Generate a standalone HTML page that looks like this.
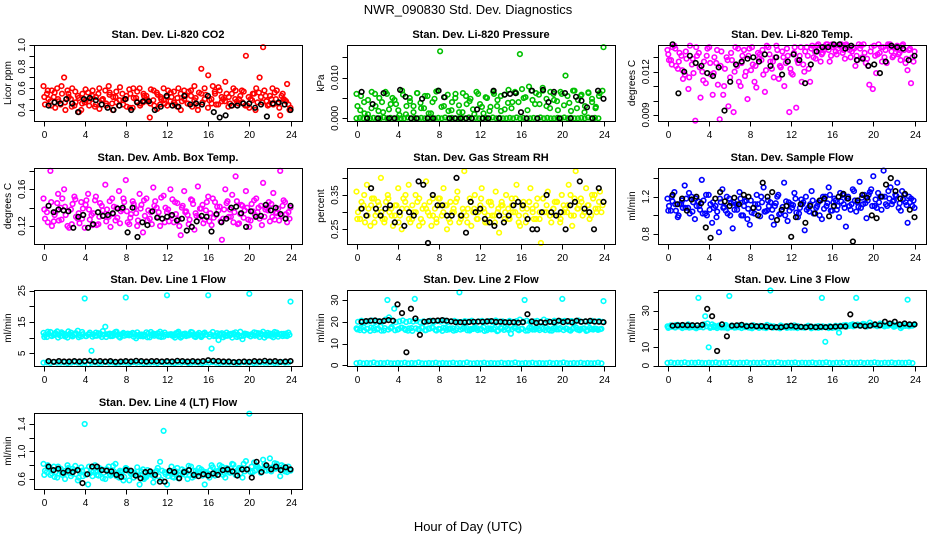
<!DOCTYPE html>
<html><head><meta charset="utf-8"><style>
html,body{margin:0;padding:0;background:#fff;}
svg{display:block;font-family:"Liberation Sans",Arial,sans-serif;}
</style></head><body>
<svg id="chart" width="936" height="540" viewBox="0 0 936 540" xmlns="http://www.w3.org/2000/svg">
<rect x="0" y="0" width="936" height="540" fill="#fff"/>
<text x="468" y="14" text-anchor="middle" font-size="13">NWR_090830  Std. Dev. Diagnostics</text>
<text x="468" y="531" text-anchor="middle" font-size="13">Hour of Day (UTC)</text>
<g id="panels"></g>
</svg>
<script>
const hourTicks = [0,4,8,12,16,20,24];

const co2Red1 = [0.62,0.55,0.48,0.52,0.60,0.45,0.70,0.58,0.50,0.44,0.53,0.40,0.47,0.56,0.50,0.43,0.55,0.49,0.58,0.62,0.46,0.52,0.44,0.55,0.50,0.59,0.42,0.51,0.60,0.47,0.53,0.33,0.49,0.56,0.45,0.60,0.52,0.48,0.57,0.43,0.55,0.50,0.46,0.58,0.62,0.40,0.78,0.50,0.72,0.46,0.55,0.61,0.48,0.66,0.52,0.44,0.58,0.50,0.47,0.90,0.42,0.55,0.60,0.70,0.98,0.48,0.53,0.45,0.58,0.35,0.50,0.64,0.42];
const co2Red2 = [0.45,0.50,0.58,0.42,0.48,0.55,0.40,0.52,0.60,0.47,0.38,0.55,0.49,0.44,0.58,0.52,0.41,0.50,0.46,0.54,0.40,0.57,0.49,0.45,0.53,0.42,0.60,0.48,0.44,0.55,0.50,0.46,0.58,0.41,0.52,0.49,0.44,0.56,0.47,0.51,0.40,0.58,0.46,0.53,0.49,0.44,0.55,0.60,0.42,0.50,0.57,0.45,0.52,0.48,0.43,0.55,0.50,0.46,0.58,0.44,0.52,0.49,0.40,0.56,0.47,0.53,0.45,0.60,0.50,0.42,0.55,0.48,0.40];
const co2Red3 = [0.52,0.58,0.44,0.56,0.50,0.62,0.47,0.55,0.43,0.57,0.51,0.46,0.59,0.48,0.53,0.45,0.60,0.50,0.44,0.56,0.52,0.47,0.61,0.49,0.43,0.55,0.51,0.57,0.46,0.53,0.48,0.59,0.44,0.54,0.50,0.46,0.58,0.52,0.45,0.60,0.48,0.53,0.57,0.43,0.51,0.56,0.47,0.54,0.49,0.62,0.45,0.58,0.50,0.55,0.46,0.60,0.48,0.53,0.57,0.44,0.50,0.55,0.47,0.52,0.58,0.44,0.50,0.56,0.46,0.53,0.49,0.45];
const co2Black = [0.44,0.47,0.46,0.50,0.46,0.38,0.50,0.51,0.49,0.45,0.42,0.40,0.44,0.50,0.40,0.47,0.48,0.48,0.40,0.43,0.53,0.44,0.43,0.53,0.45,0.46,0.45,0.53,0.38,0.33,0.35,0.44,0.44,0.46,0.46,0.42,0.45,0.34,0.46,0.47,0.45,0.40];

const presGreen1 = [0.006,0.002,0.004,0.001,0.0065,0.003,0.005,0.0015,0.006,0.0035,0.0045,0.002,0.0068,0.001,0.005,0.003,0.0062,0.0025,0.0055,0.0012,0.004,0.0066,0.0165,0.003,0.0058,0.002,0.005,0.0015,0.0062,0.0035,0.0048,0.001,0.006,0.0028,0.0052,0.0018,0.0065,0.003,0.0055,0.0022,0.007,0.004,0.0062,0.0158,0.005,0.002,0.0068,0.0035,0.0058,0.0075,0.003,0.0065,0.0045,0.002,0.006,0.0105,0.0038,0.0068,0.0025,0.0055,0.0015,0.0064,0.004,0.0028,0.0062,0.0175];
const presGreen2 = [0.003,0.0055,0.0012,0.0045,0.0025,0.006,0.0018,0.004,0.0065,0.0022,0.005,0.0035,0.0008,0.0058,0.003,0.0042,0.0015,0.0062,0.0038,0.0025,0.0055,0.0012,0.0048,0.0068,0.0028,0.0052,0.0018,0.004,0.006,0.0032,0.0015,0.0055,0.0042,0.0022,0.0065,0.0035,0.0012,0.005,0.0028,0.006,0.0045,0.0018,0.0058,0.0038,0.0025,0.0065,0.004,0.0072,0.0052,0.0078,0.0045,0.0062,0.0035,0.0068,0.0048,0.0025,0.006,0.0042,0.0065,0.0032,0.0055,0.0018,0.0068,0.0045,0.0058,0.003,0.0062,0.0048,0.0025,0.0055,0.0068];
const presGreen0 = [0,0.0001,0,0.0002,0,0.0001,0,0,0.0002,0,0.0001,0,0.0001,0,0,0.0002,0,0.0001,0,0.0001,0,0.0002,0,0,0.0001,0,0.0002,0,0.0001,0,0,0.0001,0,0.0002,0,0.0001,0,0,0.0001,0,0.0002,0,0.0001,0,0,0.0001,0,0.0002,0,0.0001,0,0,0.0001,0,0.0002,0,0.0001,0,0,0.0001,0,0.0002,0,0.0001,0,0,0.0001,0,0.0002,0,0.0001,0];
const presBlack = [0.0065,0.0,0.0035,0.0,0.0062,0.0,0.0,0.007,0.0053,0.0,0.0,0.0048,0.0,0.0,0.0068,0.0052,0.0,0.0,0.0,0.0,0.0,0.0022,0.0,0.0,0.0068,0.0,0.0058,0.006,0.0062,0.0015,0.0,0.0068,0.0,0.007,0.004,0.0065,0.0,0.0062,0.0,0.0053,0.0043,0.0027,0.0,0.0068,0.0048];

const tempMag1 = [0.0135,0.0128,0.0138,0.0122,0.0131,0.0118,0.0108,0.0125,0.0086,0.0133,0.0120,0.0112,0.0137,0.0104,0.0126,0.0087,0.0104,0.0130,0.0116,0.0092,0.0124,0.0110,0.0135,0.0101,0.0121,0.0113,0.0133,0.0128,0.0106,0.0137,0.0122,0.0130,0.0115,0.0134,0.0126,0.0092,0.0118,0.0095,0.0131,0.0125,0.0137,0.0113,0.0130,0.0138,0.0127,0.0135,0.0139,0.0131,0.0138,0.0136,0.0139,0.0129,0.0137,0.0134,0.0124,0.0139,0.0130,0.0126,0.0111,0.0108,0.0119,0.0133,0.0137,0.0126,0.0139,0.0131,0.0138,0.0128,0.0135,0.0121,0.0112,0.0134];
const tempMag2 = [0.0128,0.0137,0.0124,0.0133,0.0115,0.0129,0.0138,0.0119,0.0131,0.0102,0.0127,0.0136,0.0118,0.0130,0.0111,0.0134,0.0122,0.0096,0.0128,0.0137,0.0113,0.0131,0.0120,0.0136,0.0125,0.0109,0.0132,0.0118,0.0138,0.0127,0.0116,0.0135,0.0123,0.0110,0.0131,0.0119,0.0137,0.0126,0.0113,0.0134,0.0122,0.0138,0.0129,0.0136,0.0133,0.0139,0.0127,0.0137,0.0132,0.0139,0.0135,0.0138,0.0130,0.0136,0.0128,0.0138,0.0133,0.0124,0.0137,0.0131,0.0139,0.0127,0.0135,0.0138,0.0130,0.0136,0.0133,0.0139,0.0129,0.0136,0.0127];
const tempMag3 = [0.0132,0.0125,0.0136,0.0127,0.0121,0.0134,0.0116,0.0129,0.0137,0.0123,0.0114,0.0131,0.0126,0.0119,0.0135,0.0124,0.0110,0.0128,0.0133,0.0120,0.0136,0.0126,0.0117,0.0131,0.0137,0.0124,0.0129,0.0135,0.0121,0.0132,0.0127,0.0138,0.0124,0.0130,0.0136,0.0122,0.0133,0.0128,0.0137,0.0120,0.0131,0.0136,0.0134,0.0139,0.0132,0.0137,0.0135,0.0139,0.0134,0.0138,0.0133,0.0139,0.0135,0.0137,0.0131,0.0136,0.0139,0.0129,0.0134,0.0138,0.0132,0.0137,0.0130,0.0139,0.0134,0.0137,0.0132,0.0138,0.0126,0.0135,0.0130];
const tempBlack = [0.0139,0.0105,0.0120,0.0131,0.0126,0.0124,0.0119,0.0117,0.0123,0.0093,0.0113,0.0125,0.0127,0.0129,0.0130,0.0127,0.0132,0.0124,0.0130,0.0118,0.0127,0.0132,0.0128,0.0112,0.0125,0.0134,0.0137,0.0137,0.0139,0.0139,0.0136,0.0138,0.0128,0.0129,0.0124,0.0125,0.0119,0.0127,0.0138,0.0137,0.0136,0.0128,0.0131];

const boxMag1 = [0.150,0.135,0.180,0.125,0.145,0.140,0.160,0.120,0.138,0.152,0.128,0.146,0.118,0.155,0.132,0.148,0.122,0.142,0.165,0.130,0.150,0.126,0.158,0.138,0.170,0.122,0.147,0.134,0.155,0.113,0.150,0.128,0.162,0.140,0.120,0.153,0.135,0.160,0.124,0.145,0.110,0.158,0.132,0.149,0.116,0.163,0.139,0.127,0.152,0.121,0.146,0.137,0.105,0.160,0.130,0.154,0.174,0.123,0.142,0.158,0.119,0.136,0.150,0.128,0.167,0.140,0.125,0.156,0.134,0.180,0.148,0.124,0.140];
const boxMag2 = [0.128,0.142,0.120,0.135,0.126,0.150,0.132,0.118,0.144,0.130,0.123,0.139,0.148,0.127,0.134,0.121,0.145,0.131,0.138,0.119,0.141,0.129,0.136,0.146,0.124,0.133,0.140,0.126,0.143,0.131,0.137,0.122,0.147,0.135,0.128,0.140,0.125,0.149,0.133,0.120,0.142,0.136,0.127,0.144,0.131,0.139,0.123,0.146,0.134,0.129,0.141,0.125,0.138,0.147,0.130,0.135,0.122,0.143,0.137,0.127,0.144,0.132,0.140,0.121,0.138,0.146,0.130,0.135,0.126,0.142,0.133,0.128];
const boxMag3 = [0.138,0.124,0.146,0.132,0.155,0.127,0.141,0.136,0.122,0.149,0.134,0.128,0.143,0.138,0.121,0.152,0.130,0.137,0.125,0.147,0.133,0.140,0.123,0.150,0.136,0.129,0.144,0.120,0.139,0.148,0.126,0.135,0.142,0.130,0.151,0.124,0.138,0.131,0.146,0.127,0.140,0.135,0.122,0.148,0.134,0.129,0.143,0.137,0.125,0.150,0.132,0.141,0.128,0.145,0.138,0.124,0.147,0.133,0.129,0.140,0.126,0.148,0.135,0.142,0.130,0.137,0.144,0.127,0.139,0.131,0.146,0.135];
const boxBlack = [0.142,0.135,0.138,0.137,0.136,0.118,0.130,0.132,0.118,0.122,0.135,0.131,0.132,0.134,0.139,0.140,0.113,0.140,0.108,0.124,0.121,0.136,0.129,0.128,0.130,0.132,0.126,0.128,0.115,0.119,0.125,0.131,0.130,0.114,0.133,0.124,0.128,0.140,0.141,0.134,0.119,0.136,0.130,0.131,0.143,0.137,0.140,0.133,0.128,0.142];

const rhYellow1 = [0.36,0.28,0.32,0.38,0.26,0.34,0.30,0.40,0.27,0.35,0.31,0.29,0.37,0.25,0.33,0.38,0.28,0.35,0.26,0.31,0.39,0.29,0.34,0.27,0.32,0.37,0.25,0.33,0.30,0.36,0.28,0.42,0.31,0.26,0.35,0.30,0.37,0.27,0.33,0.29,0.36,0.24,0.32,0.35,0.28,0.30,0.38,0.26,0.33,0.31,0.37,0.28,0.34,0.21,0.30,0.36,0.27,0.33,0.29,0.35,0.31,0.38,0.26,0.42,0.32,0.29,0.37,0.28,0.34,0.30,0.36,0.33];
const rhYellow2 = [0.30,0.33,0.27,0.31,0.34,0.29,0.32,0.28,0.33,0.30,0.26,0.32,0.29,0.34,0.31,0.27,0.30,0.33,0.28,0.32,0.30,0.26,0.31,0.34,0.29,0.32,0.28,0.30,0.33,0.27,0.31,0.29,0.34,0.30,0.28,0.32,0.31,0.27,0.33,0.29,0.30,0.32,0.28,0.31,0.34,0.30,0.27,0.32,0.29,0.33,0.31,0.28,0.30,0.34,0.32,0.29,0.31,0.33,0.28,0.30,0.32,0.29,0.34,0.31,0.33,0.30,0.32,0.35,0.31,0.33,0.32];
const rhYellow3 = [0.28,0.31,0.35,0.29,0.32,0.27,0.33,0.30,0.28,0.34,0.29,0.32,0.27,0.31,0.35,0.28,0.32,0.30,0.34,0.27,0.31,0.33,0.29,0.28,0.34,0.30,0.32,0.27,0.31,0.34,0.29,0.30,0.27,0.33,0.31,0.28,0.34,0.30,0.29,0.32,0.27,0.31,0.33,0.30,0.28,0.32,0.34,0.29,0.31,0.27,0.33,0.30,0.32,0.28,0.34,0.30,0.29,0.31,0.33,0.27,0.32,0.30,0.35,0.29,0.31,0.34,0.30,0.32,0.29,0.35,0.31,0.30];
const rhBlack = [0.31,0.29,0.37,0.31,0.29,0.31,0.32,0.27,0.30,0.26,0.30,0.29,0.39,0.38,0.21,0.35,0.32,0.32,0.29,0.29,0.40,0.29,0.24,0.33,0.30,0.31,0.28,0.27,0.26,0.29,0.27,0.29,0.32,0.33,0.32,0.28,0.25,0.25,0.30,0.35,0.30,0.29,0.30,0.25,0.32,0.33,0.39,0.31,0.30,0.25,0.37,0.33];

const flowBlue1 = [1.18,1.05,1.25,0.98,1.12,1.32,1.08,1.20,0.96,1.15,1.38,1.02,1.22,0.92,1.10,0.82,1.28,1.05,1.18,0.86,1.12,1.25,1.00,1.16,0.90,1.08,1.22,0.99,1.30,1.05,1.14,0.90,1.20,1.02,1.35,0.94,1.12,1.24,0.98,1.17,0.84,1.08,1.26,1.02,1.14,0.96,1.20,1.30,1.05,1.16,0.98,1.22,0.88,1.10,1.28,1.04,1.36,1.12,0.97,1.25,1.42,1.08,1.20,1.48,1.10,1.30,1.16,1.35,1.05,1.22,0.92,1.18,1.08];
const flowBlue2 = [1.10,1.15,1.05,1.12,1.08,1.18,1.02,1.14,1.10,1.06,1.16,1.00,1.12,1.08,1.04,1.14,1.09,1.02,1.13,1.06,1.11,1.00,1.15,1.07,1.03,1.12,1.08,1.14,1.04,1.10,1.06,1.13,1.01,1.09,1.15,1.05,1.11,1.03,1.08,1.14,1.06,1.12,1.02,1.10,1.16,1.07,1.13,1.05,1.18,1.10,1.15,1.08,1.20,1.12,1.16,1.09,1.19,1.13,1.22,1.10,1.17,1.14,1.20,1.12,1.18,1.15,1.21,1.13,1.17,1.11,1.14,1.16];
const flowBlue3 = [1.05,1.20,1.12,1.00,1.16,1.08,1.24,1.04,1.18,1.10,1.02,1.22,1.06,1.14,0.98,1.18,1.08,1.20,1.00,1.14,1.06,1.18,1.10,0.96,1.16,1.02,1.12,1.20,1.04,1.16,0.98,1.10,1.22,1.06,1.00,1.14,1.08,1.18,1.02,1.12,1.20,1.04,1.16,1.08,1.00,1.20,1.10,1.22,1.14,1.06,1.24,1.12,1.18,1.06,1.26,1.14,1.08,1.22,1.16,1.28,1.10,1.24,1.06,1.20,1.26,1.12,1.22,1.08,1.26,1.14,1.20,1.10];
const flowBlack = [1.22,1.12,1.18,1.05,1.17,1.20,1.13,0.87,0.76,1.18,1.25,1.15,1.10,1.19,1.12,1.22,1.20,1.08,1.00,1.35,1.20,1.25,0.95,1.06,1.10,0.77,0.98,1.12,0.92,1.10,1.02,1.16,1.18,0.99,1.10,1.20,1.23,1.18,0.72,1.16,1.22,1.19,1.00,0.97,1.20,1.33,1.40,1.26,1.18,1.23,1.06,0.98];

const line1Cyan1 = [11.5,10.2,11.8,10.8,12.0,10.5,11.2,10.0,11.6,10.9,12.2,10.4,22.5,11.0,5.8,10.6,11.4,10.2,13.5,11.0,10.5,11.8,10.3,11.2,22.8,10.7,11.5,9.8,11.0,10.4,11.7,10.1,11.3,10.8,11.9,10.3,23.5,11.1,10.6,11.5,10.0,11.2,10.7,11.8,10.4,11.0,10.2,11.6,23.5,6.5,10.8,9.2,11.4,10.5,11.1,10.0,11.7,10.4,9.5,11.2,24.0,10.8,11.5,10.2,11.9,10.6,11.3,10.1,11.6,10.9,11.2,10.5,21.5];
const line1Cyan2 = [10.8,11.2,10.5,11.5,10.9,11.3,10.6,11.0,10.4,11.4,10.7,11.1,10.5,11.6,11.0,10.6,11.3,10.9,11.1,10.5,11.4,10.8,11.0,10.6,11.3,10.9,11.2,10.5,11.0,10.7,11.3,10.8,11.1,10.4,11.2,10.9,11.0,10.6,11.4,10.7,11.1,10.5,11.2,10.8,11.0,10.6,11.3,10.9,11.1,10.5,11.4,10.8,11.0,10.6,11.2,10.9,11.0,10.5,11.3,10.8,11.1,10.6,11.4,10.9,11.0,10.7,11.2,10.8,11.1,10.5,11.3,10.9];
const line1Cyan3 = [10.2,11.9,10.6,11.2,10.0,11.7,10.4,12.0,10.8,11.4,10.1,11.8,10.5,11.1,10.3,11.6,10.7,12.1,10.2,11.3,10.6,11.9,10.0,11.5,10.8,11.2,10.3,11.7,10.5,11.0,10.1,11.8,10.6,11.4,10.2,11.6,10.8,11.1,10.0,11.9,10.4,11.3,10.7,11.7,10.2,11.5,10.6,11.0,10.3,11.8,10.5,11.2,10.1,11.6,10.7,11.4,10.2,11.9,10.6,11.1,10.4,11.7,10.8,11.3,10.0,11.5,10.5,11.8,10.3,11.2,10.6,11.6];
const line1CyanLow = [2.0,2.1,1.9,2.2,2.0,2.0,2.1,1.9,2.0,2.2,2.0,1.9,2.1,1.5,2.0,2.1,1.9,2.0,2.2,2.0,2.1,1.9,2.0,2.1,2.0,1.9,2.2,2.0,2.1,1.9,2.0,2.0,2.1,1.9,2.2,2.0,2.1,2.0,1.9,2.1,2.0,2.2,1.9,2.0,2.1,2.0,1.9,2.1,2.0,2.2,2.0,1.9,2.1,2.0,2.0,2.1,1.9,2.0,2.2,2.0,2.1,1.9,2.0,2.1,2.0,2.0,2.1,1.9,2.0,2.2,2.0,2.1];
const line1Black = [2.5,2.3,2.5,2.4,2.4,2.5,2.4,2.5,2.6,2.4,2.5,2.4,2.5,2.3,2.4,2.5,2.4,2.6,2.5,2.4,2.5,2.5,2.4,2.5,2.4,2.6,2.5,2.4,2.5,2.4,2.5,2.8,2.6,2.5,2.4,2.4,2.2,2.3,2.4,2.3,2.5,2.4,2.6,2.4,2.5,2.3,2.4,2.5];

const line2Cyan1 = [17,16.2,17.5,16.8,15.8,17.2,16.5,17.8,16,30,17,26,16.4,17.3,16.8,15.9,17.1,30.5,16.6,17.4,16.1,16.9,17.5,16.3,16.8,15.8,17.2,16.5,17.0,16.2,33.5,16.8,17.3,16.0,16.7,17.1,16.4,17.5,16.1,16.9,16.6,15.7,17.2,16.3,16.9,14.5,17.4,16.5,16.8,30,16.0,17.2,16.4,16.9,17.5,16.2,16.7,15.9,17.3,16.5,30.5,17.0,16.3,16.8,17.4,16.1,16.9,15.8,17.2,16.4,16.8,16.6,29.5];
const line2Cyan2 = [20,20.5,19.8,20.2,20.6,19.9,20.3,20.0,21,22,20.5,19.8,20.2,20.6,19.9,20.3,20.1,20.4,19.8,20.2,20.0,20.5,19.9,20.3,20.1,20.6,19.8,20.2,20.4,20.0,19.9,20.3,20.1,20.5,19.8,20.2,20.4,20.0,20.3,19.9,20.6,20.1,20.2,19.8,20.4,20.0,20.3,21,20.1,20.5,19.9,20.2,20.4,20.0,21,20.3,19.8,20.5,20.1,20.2,20.4,19.9,20.3,20.1,20.6,20.0,20.2,19.8,20.4,20.1,20.3,20.0];
const line2Cyan3 = [16.5,17.2,16.0,16.8,17.4,16.2,16.9,15.9,17.1,16.4,17.6,16.1,16.7,17.3,16.3,16.9,15.8,17.0,16.5,17.4,16.2,16.8,17.2,16.0,16.6,17.3,16.3,16.9,15.9,17.1,16.4,17.5,16.1,16.7,17.2,16.2,16.8,15.8,17.0,16.5,17.3,16.0,16.9,17.4,16.3,16.6,17.1,16.1,16.8,15.9,17.2,16.4,17.0,16.2,16.7,17.3,16.0,16.9,16.5,17.1,16.2,16.8,15.9,17.2,16.4,16.7,17.0,16.1,16.6,16.9,16.3,16.8];
const line2CyanLow = [1.0,1.2,0.9,1.1,1.0,1.3,0.9,1.1,1.0,1.2,1.0,0.9,1.1,1.0,1.2,0.9,1.1,1.0,1.3,1.0,0.9,1.1,1.0,1.2,0.9,1.1,1.0,1.0,1.2,0.9,1.1,1.0,1.3,1.0,0.9,1.1,1.0,1.2,0.9,1.1,1.0,1.0,1.2,0.9,1.1,1.0,1.3,1.0,0.9,1.1,1.0,1.2,0.9,1.1,1.0,1.0,1.2,0.9,1.1,1.0,1.3,1.0,0.9,1.1,1.0,1.2,0.9,1.1,1.0,1.0,1.2,0.9];
const line2Black = [20,20.3,20.5,20.6,20.2,20.4,20.8,20.5,28,24,6,26,21.5,14,20,20.3,20.5,20.6,20.8,20.5,20.2,19.8,19.8,19.7,19.9,20.0,20.1,20.0,20.2,20.3,19.9,20.0,19.8,19.7,19.8,19.6,19.8,23.5,20.2,19.5,19.8,19.6,20,19.7,20.5,19.8,20.3,19.7,20.5,20.0,20.2,20.4,20.1,20.0,19.8];

const line3Cyan1 = [21.5,22,21,22.3,21.2,21.8,22.5,21,20.8,37,22,27,10,22.5,21.3,21.9,21.0,22.2,38,21.6,20.9,22.0,21.4,21.8,20.7,22.1,21.3,21.7,20.9,22.3,41,21.5,20.8,21.9,21.2,21.6,20.7,22.0,21.4,21.1,20.8,21.8,21.3,20.9,21.6,37,13,21.2,20.6,21.8,18,21.4,22.2,21.7,22.5,37,21.9,22.8,21.5,23.5,22.0,21.6,23.0,22.4,21.8,22.7,21.2,22.4,20.5,22.0,36,21.8,22.5];
const line3Cyan2 = [21,21.6,22.2,21.4,21.9,21.1,21.7,21.3,22.0,21.5,22.5,23,21.2,21.8,21.4,20.8,21.6,21.1,21.9,21.3,21.0,21.7,21.2,21.5,20.9,21.6,21.1,21.4,20.8,21.7,21.2,21.0,21.5,21.3,20.9,21.6,21.1,21.4,20.9,21.2,21.5,20.8,21.3,21.0,21.4,21.1,21.6,20.9,21.3,21.8,22.0,21.6,22.2,21.9,22.4,22.1,22.6,21.8,22.3,22.5,22.0,22.4,21.8,22.2,22.6,21.9,22.3,21.7,22.1,21.9,22.2];
const line3Cyan3 = [20.6,21.2,20.8,21.4,20.5,21.0,20.7,21.3,20.4,21.1,20.9,21.5,20.6,21.0,20.5,21.2,20.8,20.4,21.1,20.7,21.3,20.5,21.0,20.8,20.4,21.2,20.6,21.0,20.5,21.3,20.7,20.9,20.4,21.1,20.6,21.2,20.8,20.5,21.0,20.7,21.3,20.4,21.1,20.6,20.9,21.2,20.5,21.0,20.8,21.4,21.6,21.2,21.8,21.5,22.0,21.7,22.2,21.4,21.9,22.1,21.6,22.0,21.4,21.8,22.2,21.5,21.9,21.3,21.7,21.5,21.8];
const line3CyanLow = [1.5,1.7,1.4,1.6,1.5,1.8,1.4,1.6,1.5,1.7,1.5,1.4,1.6,1.5,1.7,1.4,1.6,1.5,1.8,1.5,1.4,1.6,1.5,1.7,1.4,1.6,1.5,1.5,1.7,1.4,1.6,1.5,1.8,1.5,1.4,1.6,1.5,1.7,1.4,1.6,1.5,1.5,1.7,1.4,1.6,1.5,1.8,1.5,1.4,1.6,1.5,1.7,1.4,1.6,1.5,1.5,1.7,1.4,1.6,1.5,1.8,1.5,1.4,1.6,1.5,1.7,1.4,1.6,1.5,1.5,1.7,1.4];
const line3Black = [21.8,22,22.2,22,22.1,22,22.3,31,27,8,22.5,16,21.8,22,22.3,21.5,21.8,21.5,21.6,21.3,21,21,21,21.5,21.8,21.3,21.2,21,21.3,21,21.2,21,21.2,21.3,21.5,21.4,28,22,21.8,21.5,21.8,22.5,22,24,23,24,22.5,23,22.5,22.5];

const line4Cyan1 = [0.82,0.70,0.66,0.78,0.62,0.75,0.68,0.80,0.64,0.73,0.58,0.77,1.40,0.52,0.72,0.80,0.65,0.74,0.60,0.78,0.68,0.82,0.62,0.71,0.76,0.58,0.70,0.66,0.52,0.74,0.63,0.69,0.55,0.72,0.85,1.30,0.52,0.70,0.62,0.76,0.66,0.72,0.60,0.78,0.64,0.70,0.74,0.52,0.68,0.80,0.65,0.72,0.78,0.62,0.70,0.82,0.66,0.76,0.62,0.86,1.55,0.70,0.80,0.74,0.88,0.72,0.90,0.76,0.82,0.64,0.78,0.70,0.72];
const line4Cyan2 = [0.72,0.76,0.68,0.70,0.74,0.66,0.72,0.69,0.75,0.67,0.71,0.64,0.73,0.68,0.70,0.66,0.72,0.69,0.74,0.65,0.71,0.68,0.70,0.63,0.72,0.67,0.69,0.65,0.71,0.62,0.68,0.66,0.70,0.64,0.72,0.67,0.69,0.63,0.71,0.66,0.68,0.70,0.65,0.72,0.67,0.69,0.71,0.66,0.73,0.68,0.70,0.74,0.69,0.72,0.75,0.70,0.73,0.76,0.71,0.74,0.78,0.72,0.76,0.74,0.78,0.73,0.77,0.75,0.76,0.73,0.75,0.74];
const line4Cyan3 = [0.66,0.80,0.74,0.63,0.78,0.70,0.60,0.76,0.68,0.79,0.62,0.72,0.66,0.78,0.64,0.70,0.76,0.61,0.74,0.67,0.79,0.64,0.72,0.58,0.75,0.69,0.62,0.77,0.66,0.60,0.73,0.68,0.63,0.76,0.59,0.70,0.64,0.78,0.67,0.61,0.74,0.66,0.79,0.62,0.72,0.76,0.65,0.70,0.62,0.77,0.71,0.80,0.66,0.76,0.69,0.81,0.72,0.68,0.82,0.74,0.70,0.84,0.78,0.69,0.82,0.77,0.71,0.83,0.76,0.80,0.71,0.78];
const line4Black = [0.78,0.73,0.75,0.69,0.72,0.70,0.73,0.54,0.67,0.78,0.78,0.73,0.72,0.71,0.66,0.63,0.73,0.72,0.65,0.61,0.70,0.71,0.66,0.56,0.56,0.72,0.70,0.61,0.70,0.73,0.66,0.64,0.67,0.65,0.68,0.66,0.73,0.74,0.71,0.65,0.74,0.74,0.62,0.85,0.70,0.80,0.74,0.78,0.73,0.77,0.74];

const colLeft = [34, 347, 658];
const rowTop = [45, 168, 290, 413];
const BOX_W = 268, BOX_H = 76;

const panels = [
 {name:'co2', title:'Stan. Dev. Li-820 CO2', ylab:'Licor ppm', c:0, r:0, ylim:[0.298,1.0], ticks:[0.4,0.5,0.6,0.7,0.8,0.9,1.0], labels:['0.4','0.6','0.8','1.0'], labelVals:[0.4,0.6,0.8,1.0], series:[[co2Red1,'#ff0000',0,24],[co2Red2,'#ff0000',0.15,23.9],[co2Red3,'#ff0000',0.08,23.8],[co2Black,'#000',0.5,24]]},
 {name:'pressure', title:'Stan. Dev. Li-820 Pressure', ylab:'kPa', c:1, r:0, ylim:[-0.00066,0.01804], ticks:[0,0.005,0.010,0.015], labels:['0.000','0.010'], labelVals:[0,0.010], series:[[presGreen1,'#00c000',0,24],[presGreen2,'#00c000',0.1,23.9],[presGreen0,'#00c000',0,23.5],[presBlack,'#000',0.5,24]]},
 {name:'li820-temp', title:'Stan. Dev. Li-820 Temp.', ylab:'degrees C', c:2, r:0, ylim:[0.00858,0.01385], ticks:[0.009,0.010,0.011,0.012,0.013], labels:['0.009','0.012'], labelVals:[0.009,0.012], series:[[tempMag1,'#ff00ff',0,24],[tempMag2,'#ff00ff',0.15,23.9],[tempMag3,'#ff00ff',0.08,23.8],[tempBlack,'#000',0.5,24]]},
 {name:'amb-box-temp', title:'Stan. Dev. Amb. Box Temp.', ylab:'degrees C', c:0, r:1, ylim:[0.1004,0.1832], ticks:[0.12,0.14,0.16,0.18], labels:['0.12','0.16'], labelVals:[0.12,0.16], series:[[boxMag1,'#ff00ff',0,24],[boxMag2,'#ff00ff',0.15,23.9],[boxMag3,'#ff00ff',0.08,23.8],[boxBlack,'#000',0.5,24]]},
 {name:'gas-stream-rh', title:'Stan. Dev. Gas Stream RH', ylab:'percent', c:1, r:1, ylim:[0.207,0.429], ticks:[0.25,0.30,0.35,0.40], labels:['0.25','0.35'], labelVals:[0.25,0.35], series:[[rhYellow1,'#ffff00',0,24],[rhYellow2,'#ffff00',0.15,23.9],[rhYellow3,'#ffff00',0.08,23.8],[rhBlack,'#000',0.5,24]]},
 {name:'sample-flow', title:'Stan. Dev. Sample Flow', ylab:'ml/min', c:2, r:1, ylim:[0.693,1.508], ticks:[0.8,1.0,1.2,1.4], labels:['0.8','1.2'], labelVals:[0.8,1.2], series:[[flowBlue1,'#0000ff',0,24],[flowBlue2,'#0000ff',0.15,23.9],[flowBlue3,'#0000ff',0.08,23.8],[flowBlack,'#000',0.5,24]]},
 {name:'line1-flow', title:'Stan. Dev. Line 1 Flow', ylab:'ml/min', c:0, r:2, ylim:[0.95,25.2], ticks:[5,10,15,20,25], labels:['5','15','25'], labelVals:[5,15,25], series:[[line1Cyan1,'#00ffff',0,24],[line1Cyan2,'#00ffff',0.15,23.9],[line1Cyan3,'#00ffff',0.08,23.8],[line1CyanLow,'#00ffff',0,23.8],[line1Black,'#000',0.5,24]]},
 {name:'line2-flow', title:'Stan. Dev. Line 2 Flow', ylab:'ml/min', c:1, r:2, ylim:[-0.3,34.6], ticks:[0,10,20,30], labels:['0','10','20','30'], labelVals:[0,10,20,30], series:[[line2Cyan1,'#00ffff',0,24],[line2Cyan2,'#00ffff',0.15,23.9],[line2Cyan3,'#00ffff',0.08,23.8],[line2CyanLow,'#00ffff',0,23.8],[line2Black,'#000',0.5,24]]},
 {name:'line3-flow', title:'Stan. Dev. Line 3 Flow', ylab:'ml/min', c:2, r:2, ylim:[-0.2,41.3], ticks:[0,10,20,30,40], labels:['0','10','30'], labelVals:[0,10,30], series:[[line3Cyan1,'#00ffff',0,24],[line3Cyan2,'#00ffff',0.15,23.9],[line3Cyan3,'#00ffff',0.08,23.8],[line3CyanLow,'#00ffff',0,23.8],[line3Black,'#000',0.5,24]]},
 {name:'line4-flow', title:'Stan. Dev. Line 4 (LT) Flow', ylab:'ml/min', c:0, r:3, ylim:[0.4545,1.56], ticks:[0.6,0.8,1.0,1.2,1.4], labels:['0.6','1.0','1.4'], labelVals:[0.6,1.0,1.4], series:[[line4Cyan1,'#00ffff',0,24],[line4Cyan2,'#00ffff',0.15,23.9],[line4Cyan3,'#00ffff',0.08,23.8],[line4Black,'#000',0.5,24]]}
];

const NS = 'http://www.w3.org/2000/svg';
const root = document.getElementById('panels');
function mk(tag, attrs, parent){ const e=document.createElementNS(NS,tag); for(const k in attrs) e.setAttribute(k,attrs[k]); parent.appendChild(e); return e; }

panels.forEach(p=>{
  const L = colLeft[p.c], T = rowTop[p.r], B = T+BOX_H, R = L+BOX_W;
  const xs = h => L + 9.5 + h*(247/24);
  const ys = v => B - (v - p.ylim[0])/(p.ylim[1]-p.ylim[0])*BOX_H;
  const g = mk('g',{},root);
  
  
  const t = mk('text',{x:(L+R)/2, y:T-7, 'text-anchor':'middle','font-size':'11','font-weight':'bold'},g);
  t.textContent = p.title;
  
  
  const pg = mk('g',{fill:'none','stroke-width':'1.6'},g);
  
  
  p.series.forEach(s=>{
    const vals=s[0], col=s[1], t0=s[2], t1=s[3];
    vals.forEach((v,i)=>{
      const h = t0 + i*(t1-t0)/(vals.length-1);
      const c = mk('circle',{cx:xs(h).toFixed(1), cy:ys(v).toFixed(1), r:'2.3', stroke:col},pg);
      
      
    });
  });
  const box = mk('rect',{x:L+0.5,y:T+0.5,width:BOX_W,height:BOX_H,fill:'none',stroke:'#000','stroke-width':'1'},g);
  
  
  const xa = mk('g',{},g);
  
  
  hourTicks.forEach(h=>{
    const x = Math.round(xs(h))+0.5;
    mk('line',{x1:x,x2:x,y1:B+0.5,y2:B+5.5,stroke:'#000'},xa);
    const tl = mk('text',{x:x,y:B+17,'text-anchor':'middle','font-size':'10'},xa);
    tl.textContent = h;
  });
  const ya = mk('g',{},g);
  
  
  p.ticks.forEach(v=>{
    const y = Math.round(ys(v))+0.5;
    mk('line',{x1:L-4.5,x2:L+0.5,y1:y,y2:y,stroke:'#000'},ya);
  });
  p.labelVals.forEach((v,i)=>{
    const y = ys(v), x = L-9;
    const tl = mk('text',{x:x,y:y,'text-anchor':'middle','font-size':'10',transform:`rotate(-90 ${x} ${y})`},ya);
    tl.textContent = p.labels[i];
  });
  const yt = mk('text',{x:L-23,y:(T+B)/2,'text-anchor':'middle','font-size':'10',transform:`rotate(-90 ${L-23} ${(T+B)/2})`},g);
  yt.textContent = p.ylab;
  
  
});
</script>
</body></html>
